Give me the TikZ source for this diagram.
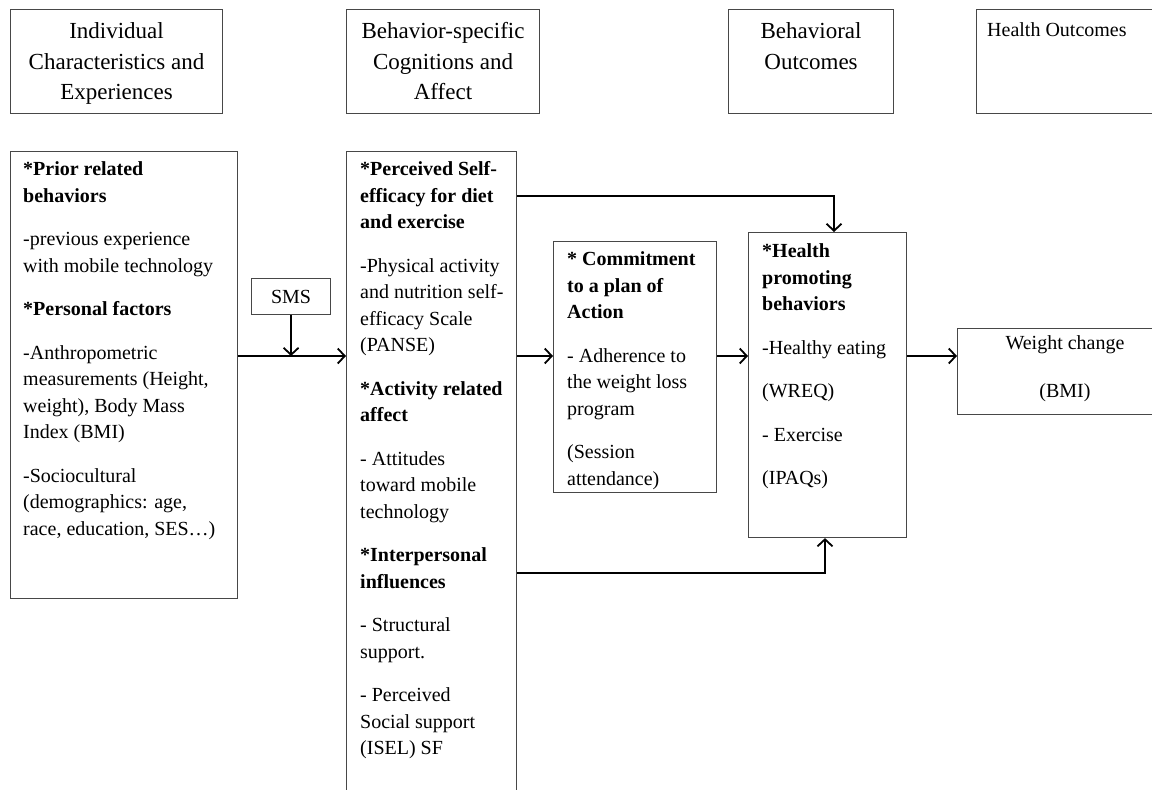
\documentclass[tikz,border=0pt]{standalone}
\usepackage{fontspec}
\setmainfont{Liberation Serif}
\usetikzlibrary{arrows.meta,calc}
\tikzset{
  box/.style={draw=black!72, line width=1.1pt, inner sep=0pt, anchor=north west},
  body/.style={inner sep=0pt, anchor=north west, align=left, font=\fontsize{20}{26.5}\selectfont},
  head/.style={inner sep=0pt, anchor=north, align=center, font=\fontsize{23}{30.5}\selectfont},
  arr/.style={line width=1.8pt, -{Straight Barb[length=7pt,width=15pt,line width=1.8pt]}},
  link/.style={line width=1.8pt},
}
\newcommand\mkbox[5]{\node[box, minimum width={#4-#2}, minimum height={#5-#3}] (#1) at (#2,#3) {};}
\begin{document}
\begin{tikzpicture}[x=1pt,y=-1pt]
\useasboundingbox (0,0) rectangle (1152,790);
\clip (0,0) rectangle (1152,790);
\fill[white] (0,0) rectangle (1152,790);

% header boxes
\mkbox{h1}{10}{9}{222}{113}
\mkbox{h2}{346}{9}{539}{113}
\mkbox{h3}{728}{9}{893}{113}
\mkbox{h4}{976}{9}{1180}{113}
\node[head] (h1t) at ($(h1.north)+(0,8)$) {\strut Individual\\Characteristics and\\Experiences};
\node[head] (h2t) at ($(h2.north)+(0,8)$) {\strut Behavior-specific\\Cognitions and\\Affect};
\node[head] (h3t) at ($(h3.north)+(0,8)$) {\strut Behavioral\\Outcomes};
\node[body] (h4t) at (987,17.5) {\strut Health Outcomes};

% main boxes
\mkbox{A}{10}{151}{237}{598}
\mkbox{B}{346}{151}{516}{800}
\mkbox{C}{553}{241}{716}{492}
\mkbox{D}{748}{232}{906}{537}
\mkbox{E}{957}{328}{1180}{414}
\node[box, minimum width=79, minimum height=36, font=\fontsize{20}{26.5}\selectfont] (SMS) at (251,278) {SMS};

\node[body] (At) at ($(A.north west)+(13,6)$) {\strut\textbf{*Prior related}\\
\textbf{behaviors}\\[17pt]
-previous experience\\
with mobile technology\\[17pt]
\textbf{*Personal factors}\\[17pt]
-Anthropometric\\
measurements (Height,\\
weight), Body Mass\\
Index (BMI)\\[17pt]
-Sociocultural\\
(demographics: age,\\
race, education, SES…)};

\node[body] (Bt) at ($(B.north west)+(14,6)$) {\strut\textbf{*Perceived Self-}\\
\textbf{efficacy for diet}\\
\textbf{and exercise}\\[17pt]
-Physical activity\\
and nutrition self-\\
efficacy Scale\\
(PANSE)\\[17pt]
\textbf{*Activity related}\\
\textbf{affect}\\[17pt]
- Attitudes\\
toward mobile\\
technology\\[17pt]
\textbf{*Interpersonal}\\
\textbf{influences}\\[17pt]
- Structural\\
support.\\[17pt]
- Perceived\\
Social support\\
(ISEL) SF};

\node[body] (Ct) at ($(C.north west)+(14,6)$) {\strut\textbf{* Commitment}\\
\textbf{to a plan of}\\
\textbf{Action}\\[17pt]
- Adherence to\\
the weight loss\\
program\\[17pt]
(Session\\
attendance)};

\node[body] (Dt) at ($(D.north west)+(14,7)$) {\strut\textbf{*Health}\\
\textbf{promoting}\\
\textbf{behaviors}\\[17pt]
-Healthy eating\\[17pt]
(WREQ)\\[17pt]
- Exercise\\[17pt]
(IPAQs)};

\node[body, anchor=north, align=center] (Et) at (1065,330.5) {\strut Weight change\\[22pt](BMI)};

% connectors
\coordinate (my) at (0,356);
\coordinate (tx) at (834,196);
\coordinate (bx) at (825,573);
\draw[arr] (A.east |- my) -- (B.west |- my);
\draw[arr] (SMS.south) -- (SMS.south |- my);
\draw[arr] (B.east |- my) -- (C.west |- my);
\draw[arr] (C.east |- my) -- (D.west |- my);
\draw[arr] (D.east |- my) -- (E.west |- my);
\draw[arr] (B.east |- tx) -- (tx) -- (tx |- D.north);
\draw[arr] (B.east |- bx) -- (bx) -- (bx |- D.south);
\end{tikzpicture}
\end{document}
